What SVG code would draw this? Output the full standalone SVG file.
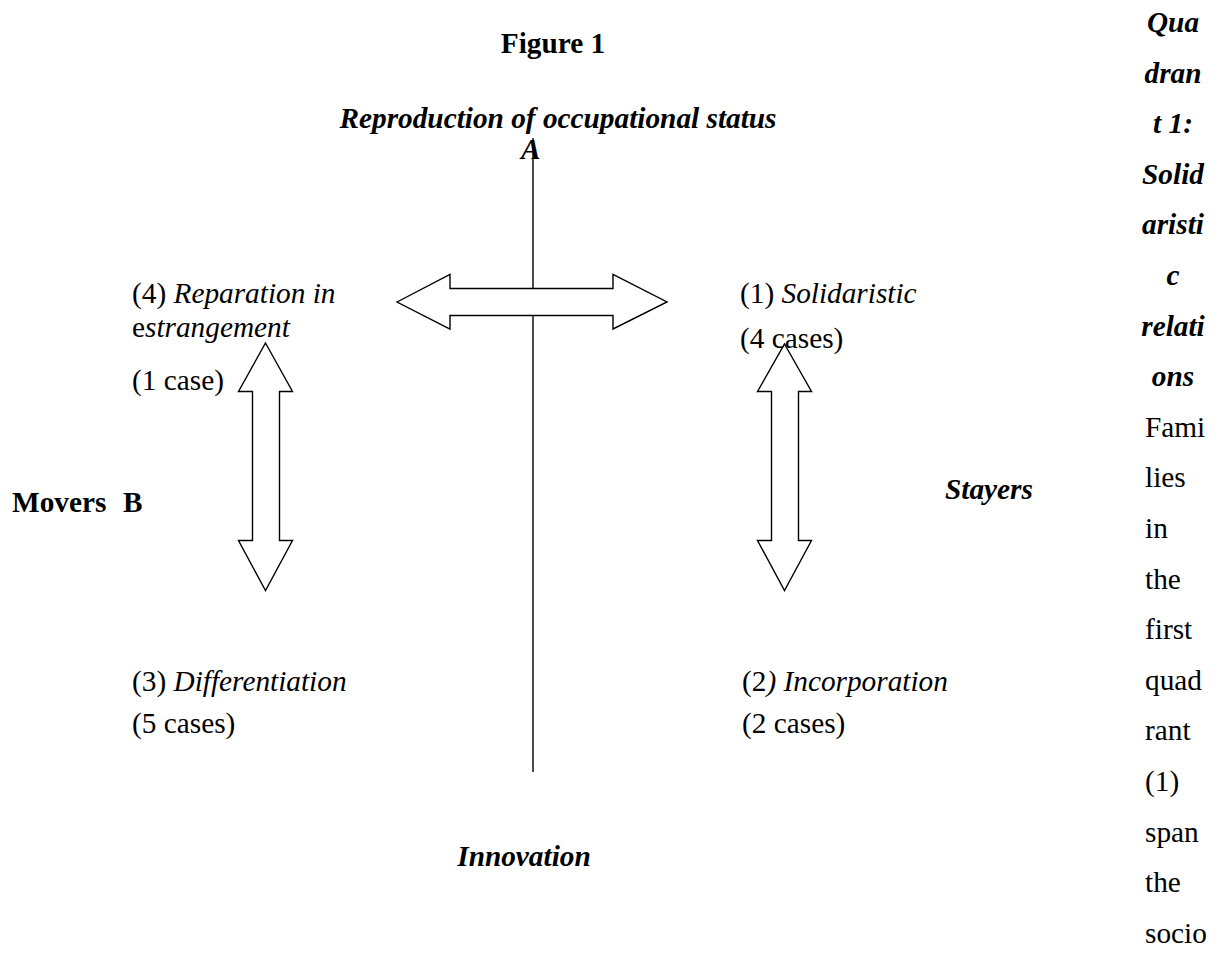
<svg xmlns="http://www.w3.org/2000/svg" width="1220" height="967" viewBox="0 0 1220 967">
<style>
text{font-family:"Liberation Serif","Times New Roman",serif;font-size:29.3px;fill:#000}
.b{font-weight:bold}
.i{font-style:italic}
.bi{font-weight:bold;font-style:italic}
.mid{text-anchor:middle}
.arrow{fill:#fff;stroke:#000;stroke-width:1.4;stroke-linejoin:miter}
.axis{stroke:#000;stroke-width:1.4;fill:none}
</style>
<rect width="1220" height="967" fill="#fff"/>
<g id="connectors">
<line class="axis" x1="533" y1="138" x2="533" y2="772"/>
<polygon class="arrow" points="397,302 450,274.5 450,288.5 613,288.5 613,274.5 667,302 613,329 613,315.5 450,315.5 450,329"/>
<polygon class="arrow" points="265.5,343 292.5,391.5 279.5,391.5 279.5,540.5 292.5,540.5 265.5,590.5 238.5,540.5 252.5,540.5 252.5,391.5 238.5,391.5"/>
<polygon class="arrow" points="784.5,344 811.5,391.5 798.5,391.5 798.5,540.5 811.5,540.5 784.5,590.5 757.5,540.5 771.5,540.5 771.5,391.5 757.5,391.5"/>
</g>
<g id="title"><text class="b mid" x="553" y="53">Figure 1</text></g>
<g id="axis-top"><text class="bi mid" x="558" y="128">Reproduction of occupational status</text><text class="bi" x="521" y="159">A</text></g>
<g id="axis-left"><text class="b" x="12" y="512">Movers<tspan x="123" y="512">B</tspan></text></g>
<g id="axis-right"><text class="bi" x="945" y="499">Stayers</text></g>
<g id="axis-bottom"><text class="bi mid" x="524" y="866">Innovation</text></g>
<g id="q4"><text x="132" y="303">(4) <tspan class="i">Reparation in</tspan></text><text x="132" y="337">e<tspan class="i">strangement</tspan></text><text x="132" y="390">(1 case)</text></g>
<g id="q1"><text x="740" y="303">(1) <tspan class="i">Solidaristic</tspan></text><text x="740" y="348">(4 cases)</text></g>
<g id="q3"><text x="132" y="691">(3) <tspan class="i">Differentiation</tspan></text><text x="132" y="733">(5 cases)</text></g>
<g id="q2"><text x="742" y="691">(2<tspan class="i">) Incorporation</tspan></text><text x="742" y="733">(2 cases)</text></g>
<g id="side-text">
<text class="bi mid" x="1173" y="32">Qua</text>
<text class="bi mid" x="1173" y="82.6">dran</text>
<text class="bi mid" x="1173" y="133.2">t 1:</text>
<text class="bi mid" x="1173" y="183.8">Solid</text>
<text class="bi mid" x="1173" y="234.4">aristi</text>
<text class="bi mid" x="1173" y="285">c</text>
<text class="bi mid" x="1173" y="335.6">relati</text>
<text class="bi mid" x="1173" y="386.2">ons</text>
<text x="1145" y="436.8">Fami</text>
<text x="1145" y="487.4">lies</text>
<text x="1145" y="538">in</text>
<text x="1145" y="588.6">the</text>
<text x="1145" y="639.2">first</text>
<text x="1145" y="689.8">quad</text>
<text x="1145" y="740.4">rant</text>
<text x="1145" y="791">(1)</text>
<text x="1145" y="841.6">span</text>
<text x="1145" y="892.2">the</text>
<text x="1145" y="942.8">socio</text>
</g>
</svg>
